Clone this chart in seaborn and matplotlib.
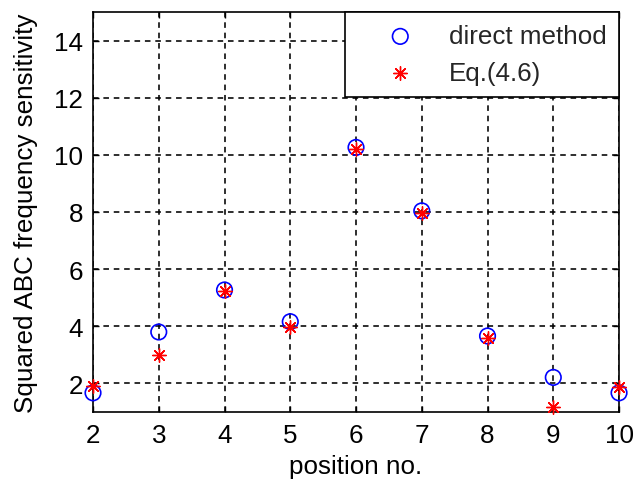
import matplotlib
matplotlib.use("Agg")
import matplotlib.pyplot as plt
import seaborn as sns
import pandas as pd

# Sensitivity values per measurement position
positions = [2, 3, 4, 5, 6, 7, 8, 9, 10]
direct_method = [1.67, 3.80, 5.27, 4.16, 10.26, 8.04, 3.66, 2.21, 1.67]
eq_4_6 = [1.92, 3.00, 5.24, 3.98, 10.19, 7.96, 3.58, 1.16, 1.88]

x_ticks = [2, 3, 4, 5, 6, 7, 8, 9, 10]
y_ticks = [2, 4, 6, 8, 10, 12, 14]

sns.set_theme(style="white")
plt.rcParams["font.family"] = ["Liberation Sans", "DejaVu Sans"]

FS = 18.7

df = pd.DataFrame({"pos": positions, "direct": direct_method, "eq": eq_4_6})

fig = plt.figure(figsize=(6.34, 4.85), dpi=100)
fig.patch.set_facecolor("white")
ax = fig.add_axes([0.1467, 0.1485, 0.8297, 0.8247])
ax.set_facecolor("white")

sns.scatterplot(data=df, x="pos", y="direct", ax=ax, marker="o", s=125,
                facecolors="none", edgecolor="#0000ff", linewidth=1.2,
                label="direct method", zorder=3, clip_on=False)
sns.scatterplot(data=df, x="pos", y="eq", ax=ax, marker=(8, 2, 0), s=95,
                color="#ff0000", linewidth=1.0, label="Eq.(4.6)", zorder=4,
                clip_on=False)

ax.set_xlim(2, 10)
ax.set_ylim(1, 15)
ax.set_xticks(x_ticks)
ax.set_yticks(y_ticks)
ax.set_xticklabels([str(v) for v in x_ticks])
ax.set_yticklabels([str(v) for v in y_ticks])

ax.grid(True, color="black", linestyle=(0, (3.5, 3.0)), linewidth=1.15)
ax.set_axisbelow(True)

for sp in ax.spines.values():
    sp.set_visible(True)
    sp.set_color("black")
    sp.set_linewidth(1.2)

ax.tick_params(axis="both", which="both", direction="in", length=4,
               width=1.0, colors="black", labelsize=FS,
               top=True, right=True, bottom=True, left=True)
ax.tick_params(axis="x", pad=8)
ax.tick_params(axis="y", pad=7)

ax.set_xlabel("position no.", fontsize=FS, color="black", labelpad=5)
ax.set_ylabel("Squared ABC frequency sensitivity", fontsize=FS, color="black")
ax.yaxis.set_label_coords(-0.105, 0.5)

leg = ax.legend(loc="upper right", bbox_to_anchor=(1, 1), borderaxespad=0,
                fontsize=FS, frameon=True, fancybox=False, framealpha=1,
                edgecolor="black", borderpad=0.47, labelspacing=0.5,
                handlelength=3.3, handletextpad=0.23)
leg.get_frame().set_linewidth(1.2)
leg.set_zorder(10)

fig.savefig("out.png", dpi=100, facecolor="white")
